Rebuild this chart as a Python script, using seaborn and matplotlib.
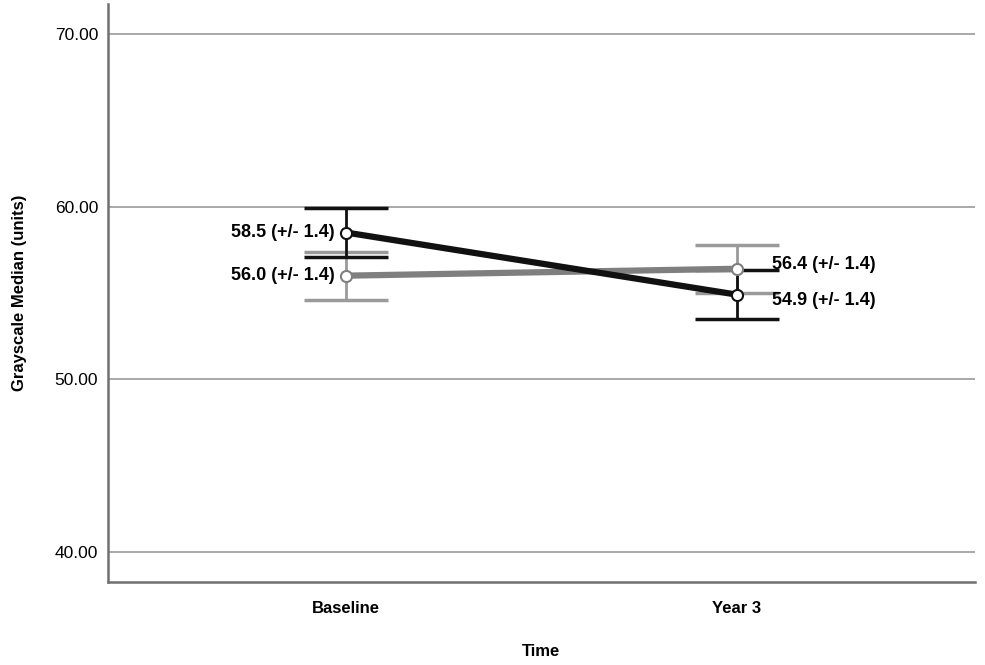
import numpy as np
import pandas as pd
import seaborn as sns
import matplotlib.pyplot as plt

# values
times = ['Baseline', 'Year 3']
group_a = [58.5, 54.9]   # black line
group_b = [56.0, 56.4]   # gray line
err_a = [1.4, 1.4]
err_b = [1.4, 1.4]
yticks = [40, 50, 60, 70]

df = pd.DataFrame({
    'Time': times * 2,
    'Value': group_a + group_b,
    'Group': ['A'] * 2 + ['B'] * 2,
})

sns.set_style('white')
plt.rcParams['font.family'] = ['Liberation Sans', 'DejaVu Sans']
plt.rcParams['text.color'] = 'black'
plt.rcParams['axes.labelcolor'] = 'black'
plt.rcParams['xtick.color'] = 'black'
plt.rcParams['ytick.color'] = 'black'

fig = plt.figure(figsize=(9.85, 6.65), dpi=100)
ax = fig.add_axes([0.1096, 0.125, 0.880, 0.869])

line_cols = {'A': '#111111', 'B': '#7f7f7f'}
bar_cols = {'A': '#111111', 'B': '#9a9a9a'}

for y in yticks:
    ax.axhline(y, color='#a8a8a8', lw=1.4, zorder=0)

# error bars
x = np.arange(len(times))
ax.errorbar(x, group_b, yerr=err_b, fmt='none', ecolor=bar_cols['B'],
            elinewidth=2, capsize=30, capthick=2.5, zorder=2)
ax.errorbar(x, group_a, yerr=err_a, fmt='none', ecolor=bar_cols['A'],
            elinewidth=2, capsize=30, capthick=2.5, zorder=2)

sns.pointplot(data=df, x='Time', y='Value', hue='Group', order=times,
              hue_order=['B', 'A'], palette=line_cols, errorbar=None,
              markers='o', markersize=8, linewidth=4.5,
              markerfacecolor='white', markeredgewidth=1.5,
              legend=False, ax=ax, zorder=3)

def label(xi, v, e, dy):
    if xi == 0:
        ax.annotate(f'{v:.1f} (+/- {e:.1f})', (xi, v), xytext=(-8, dy),
                    textcoords='offset points', ha='right', va='center',
                    fontsize=13, fontweight='bold')
    else:
        ax.annotate(f'{v:.1f} (+/- {e:.1f})', (xi, v), xytext=(25, dy),
                    textcoords='offset points', ha='left', va='center',
                    fontsize=13, fontweight='bold')

for xi, v, e in zip(x, group_a, err_a):
    label(xi, v, e, 0 if xi == 0 else -4)
for xi, v, e in zip(x, group_b, err_b):
    label(xi, v, e, 0 if xi == 0 else 3)

ax.set_xlim(-0.609, 1.608)
ax.set_ylim(38.26, 71.74)
ax.set_yticks(yticks)
ax.set_yticklabels([f'{t:.2f}' for t in yticks], fontsize=12.5)
ax.set_xticks(x)
ax.set_xticklabels(times, fontsize=12, fontweight='bold')
ax.tick_params(axis='both', length=0)
ax.tick_params(axis='x', pad=14)
ax.tick_params(axis='y', pad=7)
ax.set_xlabel('Time', fontsize=12, fontweight='bold', labelpad=20)
ax.set_ylabel('Grayscale Median (units)', fontsize=12, fontweight='bold', labelpad=20)

sns.despine(ax=ax, top=True, right=True)
for s in ['left', 'bottom']:
    ax.spines[s].set_color('#707070')
    ax.spines[s].set_linewidth(1.8)

fig.savefig('out.png', dpi=100)
